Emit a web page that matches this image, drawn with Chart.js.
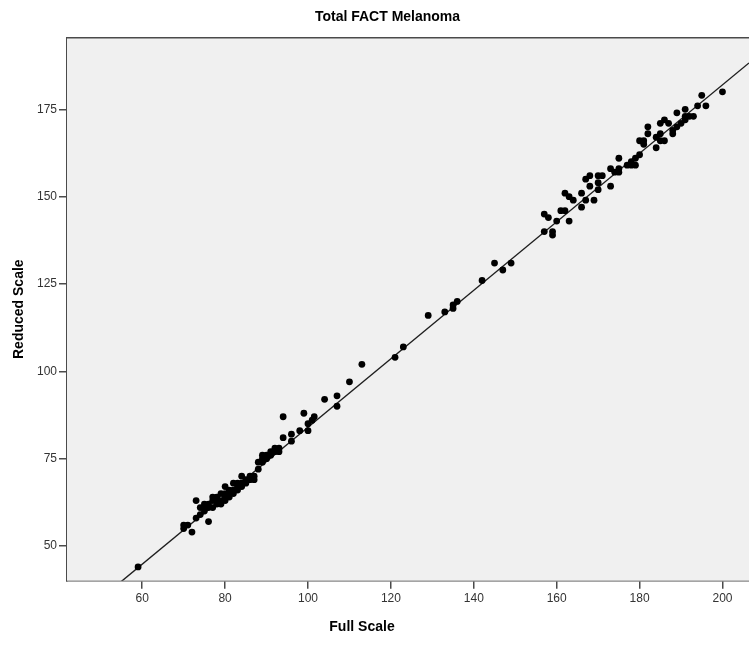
<!DOCTYPE html>
<html>
<head>
<meta charset="utf-8">
<script src="https://cdn.jsdelivr.net/npm/chart.js@4"></script>
<style>
  html, body { margin: 0; padding: 0; background: #fff; overflow: hidden; }
  #wrap { width: 749px; height: 646px; position: relative; }
</style>
</head>
<body>
<div id="wrap"><canvas id="fact-chart"></canvas></div>
<script>
// full scale score (x) / reduced scale score (y)
const fullScale = [59, 70, 70, 71, 72, 73, 73, 76,
  74, 74, 75, 75, 75, 76, 76, 77, 77, 77, 78, 78, 78, 79, 79, 79, 80, 80, 80, 80,
  81, 81, 81, 82, 82, 82, 83, 83, 83, 84, 84, 84, 85, 85, 86, 86, 87, 87, 88, 88,
  89, 89, 89, 90, 90, 91, 91, 92, 92, 93, 93,
  94, 94, 96, 96, 98, 99, 100, 100, 101, 101.5, 104, 107, 107, 110, 113, 121, 123,
  129, 133, 135, 135, 136, 142, 145, 147, 149,
  157, 158, 157, 159, 159, 160, 161, 162, 163, 162, 163, 164, 166, 166, 167, 167,
  168, 168, 169, 170, 170, 170, 171, 173, 173, 174, 175, 175, 175, 177, 178, 179,
  178, 179, 180, 180, 181, 181, 182, 182, 184, 184, 185, 185, 186, 185, 186, 187,
  188, 189, 188, 189, 190, 191, 191, 191, 192, 193, 194, 195, 196, 200];
const reducedScale = [44, 55, 56, 56, 54, 58, 63, 57,
  59, 61, 60, 61, 62, 61, 62, 61, 63, 64, 62, 63, 64, 62, 63, 65, 63, 64, 65, 67,
  64, 65, 66, 65, 66, 68, 66, 67, 68, 67, 68, 70, 68, 69, 69, 70, 69, 70, 72, 74,
  74, 75, 76, 75, 76, 76, 77, 77, 78, 77, 78,
  87, 81, 82, 80, 83, 88, 83, 85, 86, 87, 92, 93, 90, 97, 102, 104, 107,
  116, 117, 118, 119, 120, 126, 131, 129, 131,
  145, 144, 140, 140, 139, 143, 146, 146, 143, 151, 150, 149, 151, 147, 149, 155,
  156, 153, 149, 152, 154, 156, 156, 153, 158, 157, 157, 158, 161, 159, 159, 159,
  160, 161, 162, 166, 165, 166, 170, 168, 164, 167, 168, 166, 166, 171, 172, 171,
  168, 174, 169, 170, 171, 172, 175, 173, 173, 173, 176, 179, 176, 180];

// fit line
const fitSlope = 0.98;
const fitIntercept = -14.0;

const xRange = [41.85, 206.4];
const yRange = [40.07, 195.5];
const xTicks = [60, 80, 100, 120, 140, 160, 180, 200];
const yTicks = [50, 75, 100, 125, 150, 175];
const xTitle = "Full Scale";

const axisColor = "#4a4a4a";
const fontFamily = "'Liberation Sans', Arial, sans-serif";

const points = fullScale.map((x, i) => ({ x: x, y: reducedScale[i] }));
const fitLine = xRange.map(x => ({ x: x, y: fitSlope * x + fitIntercept }));

// grey plot background, top frame line and the x axis title
const plotFrame = {
  id: "plotFrame",
  beforeDatasetsDraw(chart) {
    const { ctx, chartArea: a } = chart;
    ctx.save();
    ctx.fillStyle = "#f0f0f0";
    ctx.fillRect(a.left, a.top, a.right - a.left, a.bottom - a.top);
    ctx.restore();
  },
  afterDraw(chart) {
    const { ctx, chartArea: a } = chart;
    ctx.save();
    ctx.strokeStyle = axisColor;
    ctx.lineWidth = 1.5;
    ctx.beginPath();
    ctx.moveTo(a.left, a.top);
    ctx.lineTo(a.right, a.top);
    ctx.stroke();
    ctx.fillStyle = "#000";
    ctx.font = "bold 14px " + fontFamily;
    ctx.textAlign = "center";
    ctx.textBaseline = "middle";
    ctx.fillText(xTitle, 362, 627);
    ctx.restore();
  }
};

const config = {
  type: "scatter",
  data: {
    datasets: [
      {
        label: "Fit",
        type: "line",
        data: fitLine,
        borderColor: "#1e1e1e",
        borderWidth: 1.4,
        pointRadius: 0,
        fill: false,
        order: 2,
      },
      {
        label: "Cases",
        data: points,
        backgroundColor: "#000",
        borderColor: "#000",
        pointRadius: 3.4,
        borderWidth: 0,
        order: 1,
      },
    ],
  },
  options: {
    responsive: true,
    maintainAspectRatio: false,
    animation: false,
    layout: { autoPadding: false, padding: { left: 26, right: 0, top: 0, bottom: 0 } },
    plugins: {
      legend: { display: false },
      tooltip: { enabled: false },
      title: {
        display: true,
        text: "Total FACT Melanoma",
        color: "#000",
        font: { family: fontFamily, size: 14, weight: "bold" },
        padding: { top: 8.6, bottom: 12.3 },
      },
    },
    scales: {
      x: {
        type: "linear",
        min: xRange[0],
        max: xRange[1],
        afterBuildTicks: s => { s.ticks = xTicks.map(v => ({ value: v })); },
        afterFit: s => { s.height = 65.3; },
        border: { display: true, color: axisColor, width: 1.5 },
        grid: { drawOnChartArea: false, drawTicks: true, tickLength: 8, color: axisColor, lineWidth: 1.5 },
        ticks: { color: "#333", font: { family: fontFamily, size: 12 }, padding: 3, maxRotation: 0 },
        title: { display: false },
      },
      y: {
        type: "linear",
        min: yRange[0],
        max: yRange[1],
        afterBuildTicks: s => { s.ticks = yTicks.map(v => ({ value: v })); },
        afterFit: s => { s.width = 41; },
        border: { display: true, color: axisColor, width: 1.5 },
        grid: { drawOnChartArea: false, drawTicks: true, tickLength: 8, color: axisColor, lineWidth: 1.5 },
        ticks: { color: "#333", font: { family: fontFamily, size: 12 }, padding: 2 },
        title: {
          display: true,
          text: "Reduced Scale",
          color: "#000",
          font: { family: fontFamily, size: 14, weight: "bold" },
          padding: { top: -15.4, bottom: 4 },
        },
      },
    },
  },
  plugins: [plotFrame],
};

let myChart = new Chart(document.getElementById("fact-chart"), config);
</script>
</body>
</html>
